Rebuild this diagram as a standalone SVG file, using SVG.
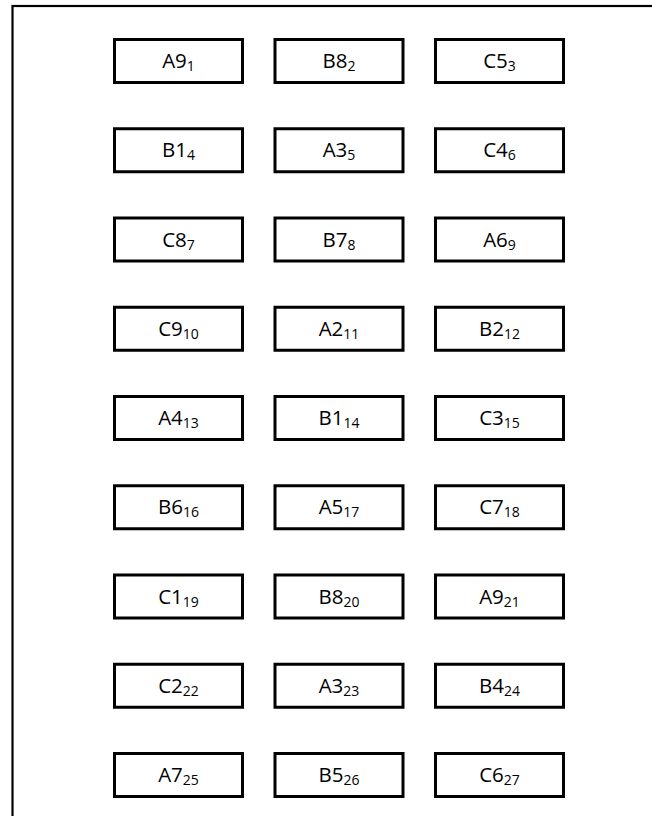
<svg xmlns="http://www.w3.org/2000/svg" width="652" height="816" viewBox="0 0 652 816">
<style>
.frame{fill:none;stroke:#000;stroke-width:2.2}
.box{fill:#fff;stroke:#000;stroke-width:3}
.lbl{font-family:"Open Sans","Liberation Sans",sans-serif;font-size:20.5px;fill:#000;text-anchor:middle}
.sub{font-size:14px}
</style>
<rect class="frame" x="12.5" y="6" width="700" height="900"/>
<g id="nodes">
<g id="n1"><rect class="box" x="114.5" y="39.5" width="128" height="43"/><text class="lbl" x="178.5" y="68">A9<tspan class="sub" dy="3">1</tspan></text></g>
<g id="n2"><rect class="box" x="275" y="39.5" width="128" height="43"/><text class="lbl" x="339" y="68">B8<tspan class="sub" dy="3">2</tspan></text></g>
<g id="n3"><rect class="box" x="435.5" y="39.5" width="128" height="43"/><text class="lbl" x="499.5" y="68">C5<tspan class="sub" dy="3">3</tspan></text></g>

<g id="n4"><rect class="box" x="114.5" y="128.75" width="128" height="43"/><text class="lbl" x="178.5" y="157.25">B1<tspan class="sub" dy="3">4</tspan></text></g>
<g id="n5"><rect class="box" x="275" y="128.75" width="128" height="43"/><text class="lbl" x="339" y="157.25">A3<tspan class="sub" dy="3">5</tspan></text></g>
<g id="n6"><rect class="box" x="435.5" y="128.75" width="128" height="43"/><text class="lbl" x="499.5" y="157.25">C4<tspan class="sub" dy="3">6</tspan></text></g>

<g id="n7"><rect class="box" x="114.5" y="218" width="128" height="43"/><text class="lbl" x="178.5" y="246.5">C8<tspan class="sub" dy="3">7</tspan></text></g>
<g id="n8"><rect class="box" x="275" y="218" width="128" height="43"/><text class="lbl" x="339" y="246.5">B7<tspan class="sub" dy="3">8</tspan></text></g>
<g id="n9"><rect class="box" x="435.5" y="218" width="128" height="43"/><text class="lbl" x="499.5" y="246.5">A6<tspan class="sub" dy="3">9</tspan></text></g>

<g id="n10"><rect class="box" x="114.5" y="307.25" width="128" height="43"/><text class="lbl" x="178.5" y="335.75">C9<tspan class="sub" dy="3">10</tspan></text></g>
<g id="n11"><rect class="box" x="275" y="307.25" width="128" height="43"/><text class="lbl" x="339" y="335.75">A2<tspan class="sub" dy="3">11</tspan></text></g>
<g id="n12"><rect class="box" x="435.5" y="307.25" width="128" height="43"/><text class="lbl" x="499.5" y="335.75">B2<tspan class="sub" dy="3">12</tspan></text></g>

<g id="n13"><rect class="box" x="114.5" y="396.5" width="128" height="43"/><text class="lbl" x="178.5" y="425">A4<tspan class="sub" dy="3">13</tspan></text></g>
<g id="n14"><rect class="box" x="275" y="396.5" width="128" height="43"/><text class="lbl" x="339" y="425">B1<tspan class="sub" dy="3">14</tspan></text></g>
<g id="n15"><rect class="box" x="435.5" y="396.5" width="128" height="43"/><text class="lbl" x="499.5" y="425">C3<tspan class="sub" dy="3">15</tspan></text></g>

<g id="n16"><rect class="box" x="114.5" y="485.75" width="128" height="43"/><text class="lbl" x="178.5" y="514.25">B6<tspan class="sub" dy="3">16</tspan></text></g>
<g id="n17"><rect class="box" x="275" y="485.75" width="128" height="43"/><text class="lbl" x="339" y="514.25">A5<tspan class="sub" dy="3">17</tspan></text></g>
<g id="n18"><rect class="box" x="435.5" y="485.75" width="128" height="43"/><text class="lbl" x="499.5" y="514.25">C7<tspan class="sub" dy="3">18</tspan></text></g>

<g id="n19"><rect class="box" x="114.5" y="575" width="128" height="43"/><text class="lbl" x="178.5" y="603.5">C1<tspan class="sub" dy="3">19</tspan></text></g>
<g id="n20"><rect class="box" x="275" y="575" width="128" height="43"/><text class="lbl" x="339" y="603.5">B8<tspan class="sub" dy="3">20</tspan></text></g>
<g id="n21"><rect class="box" x="435.5" y="575" width="128" height="43"/><text class="lbl" x="499.5" y="603.5">A9<tspan class="sub" dy="3">21</tspan></text></g>

<g id="n22"><rect class="box" x="114.5" y="664.25" width="128" height="43"/><text class="lbl" x="178.5" y="692.75">C2<tspan class="sub" dy="3">22</tspan></text></g>
<g id="n23"><rect class="box" x="275" y="664.25" width="128" height="43"/><text class="lbl" x="339" y="692.75">A3<tspan class="sub" dy="3">23</tspan></text></g>
<g id="n24"><rect class="box" x="435.5" y="664.25" width="128" height="43"/><text class="lbl" x="499.5" y="692.75">B4<tspan class="sub" dy="3">24</tspan></text></g>

<g id="n25"><rect class="box" x="114.5" y="753.5" width="128" height="43"/><text class="lbl" x="178.5" y="782">A7<tspan class="sub" dy="3">25</tspan></text></g>
<g id="n26"><rect class="box" x="275" y="753.5" width="128" height="43"/><text class="lbl" x="339" y="782">B5<tspan class="sub" dy="3">26</tspan></text></g>
<g id="n27"><rect class="box" x="435.5" y="753.5" width="128" height="43"/><text class="lbl" x="499.5" y="782">C6<tspan class="sub" dy="3">27</tspan></text></g>
</g>
<g id="connectors"></g>
</svg>
